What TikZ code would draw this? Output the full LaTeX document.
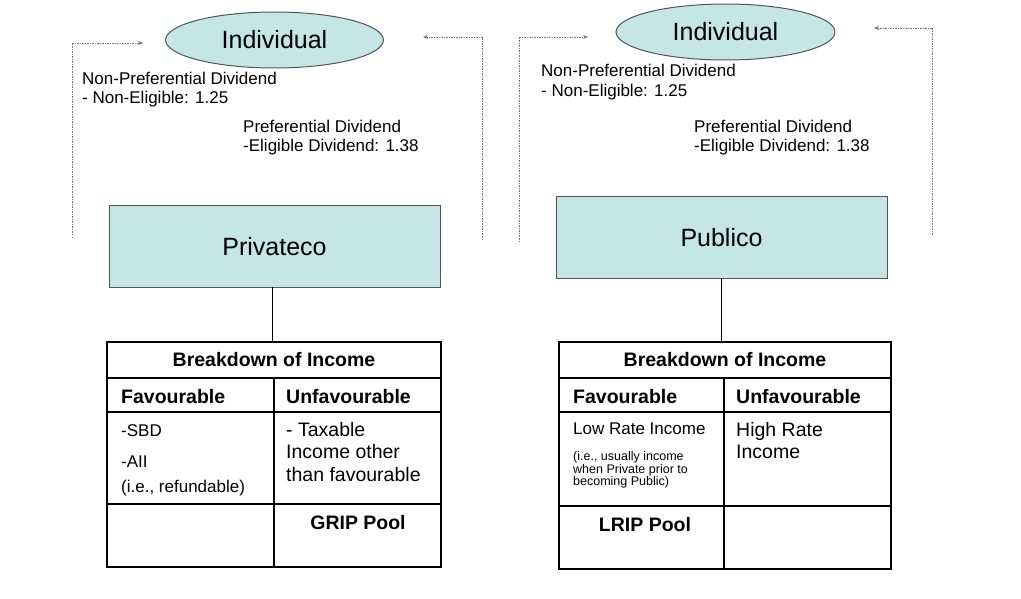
\documentclass[tikz,border=0pt]{standalone}
\usepackage{fontspec}
\setmainfont{Liberation Sans}
\usetikzlibrary{shapes.geometric,arrows.meta}
\definecolor{tealfill}{RGB}{196,230,230}
\definecolor{edgegray}{RGB}{85,85,85}
\definecolor{flowgray}{RGB}{120,120,120}
\begin{document}
\begin{tikzpicture}[x=1pt,y=-1pt,
 oval/.style={ellipse,draw=edgegray,fill=tealfill,line width=1pt,minimum width=218pt,minimum height=56pt,inner sep=0pt,font=\fontsize{25}{30}\selectfont},
 entity/.style={rectangle,draw=edgegray,fill=tealfill,line width=1pt,minimum width=331pt,minimum height=81pt,inner sep=0pt,font=\fontsize{25}{30}\selectfont},
 tbl/.style={rectangle,draw=black,line width=2.5pt,inner sep=0pt},
 grid/.style={draw=black,line width=1.2pt},
 link/.style={draw=black,line width=0.8pt},
 flow/.style={draw=flowgray,line width=0.8pt,dash pattern=on 1.5pt off 1pt,-{Stealth[length=5pt,width=4pt]}},
 txt/.style={anchor=base west,inner sep=0pt,font=\fontsize{17}{20}\selectfont},
 midtxt/.style={anchor=base west,inner sep=0pt,font=\fontsize{19.5}{22}\selectfont},
 smalltxt/.style={anchor=base west,inner sep=0pt,font=\fontsize{12.5}{14}\selectfont},
 headtxt/.style={anchor=base,inner sep=0pt,font=\fontsize{19.5}{22}\selectfont\bfseries},
 colhead/.style={anchor=base west,inner sep=0pt,font=\fontsize{19.5}{22}\selectfont\bfseries}
]
\useasboundingbox (0,0) rectangle (1021,599);

% ---------------- Left diagram ----------------
\node[oval] (ind1) at (274.5,40) {Individual};
\node[entity] (priv) at (274.5,246.5) {Privateco};

\coordinate (l1a) at (72,238);
\coordinate (l1b) at (72,43);
\coordinate (l1c) at (143,43);
\draw[flow] (l1a) -- (l1b) -- (l1c);
\coordinate (r1a) at (482,240);
\coordinate (r1b) at (482,37);
\coordinate (r1c) at (423,37);
\draw[flow] (r1a) -- (r1b) -- (r1c);

\node[txt] (np1a) at (82,85) {Non-Preferential Dividend};
\node[txt] (np1b) at (82,104) {- Non-Eligible: 1.25};
\node[txt] (p1a) at (243,133) {Preferential Dividend};
\node[txt] (p1b) at (243,152) {-Eligible Dividend: 1.38};

\node[tbl,minimum width=334pt,minimum height=225pt] (tab1) at (274,454.5) {};
\draw[link] (272,287) -- (272,342);
\draw[grid] (107,378) -- (441,378);
\draw[grid] (107,412) -- (441,412);
\draw[grid] (107,504) -- (441,504);
\draw[grid] (274,378) -- (274,567);

\node[headtxt] (h1) at (274,366) {Breakdown of Income};
\node[colhead] (f1) at (121,403) {Favourable};
\node[colhead] (u1) at (286,403) {Unfavourable};
\node[txt] (s1) at (121,436) {-SBD};
\node[txt] (a1) at (121,467) {-AII};
\node[txt] (i1) at (121,492) {(i.e., refundable)};
\node[midtxt] (t1a) at (286,436) {- Taxable};
\node[midtxt] (t1b) at (286,458) {Income other};
\node[midtxt] (t1c) at (286,481) {than favourable};
\node[headtxt] (g1) at (358,529) {GRIP Pool};

% ---------------- Right diagram ----------------
\node[oval,minimum width=219pt] (ind2) at (725.5,32) {Individual};
\node[entity] (pub) at (721.5,237.5) {Publico};

\coordinate (l2a) at (519,242);
\coordinate (l2b) at (519,37);
\coordinate (l2c) at (588,37);
\draw[flow] (l2a) -- (l2b) -- (l2c);
\coordinate (r2a) at (932,235);
\coordinate (r2b) at (932,28);
\coordinate (r2c) at (874,28);
\draw[flow] (r2a) -- (r2b) -- (r2c);

\node[txt] (np2a) at (541,77) {Non-Preferential Dividend};
\node[txt] (np2b) at (541,97) {- Non-Eligible: 1.25};
\node[txt] (p2a) at (694,133) {Preferential Dividend};
\node[txt] (p2b) at (694,152) {-Eligible Dividend: 1.38};

\node[tbl,minimum width=332pt,minimum height=227pt] (tab2) at (725,455.5) {};
\draw[link] (721,278) -- (721,342);
\draw[grid] (559,378) -- (891,378);
\draw[grid] (559,412) -- (891,412);
\draw[grid] (559,506) -- (891,506);
\draw[grid] (724,378) -- (724,569);

\node[headtxt] (h2) at (725,366) {Breakdown of Income};
\node[colhead] (f2) at (573,403) {Favourable};
\node[colhead] (u2) at (736,403) {Unfavourable};
\node[txt] (lr2) at (573,434) {Low Rate Income};
\node[smalltxt] (e2a) at (573,460) {(i.e., usually income};
\node[smalltxt] (e2b) at (573,473) {when Private prior to};
\node[smalltxt] (e2c) at (573,485) {becoming Public)};
\node[midtxt] (hr2a) at (736,436) {High Rate};
\node[midtxt] (hr2b) at (736,458) {Income};
\node[headtxt] (g2) at (645,531) {LRIP Pool};
\end{tikzpicture}
\end{document}
